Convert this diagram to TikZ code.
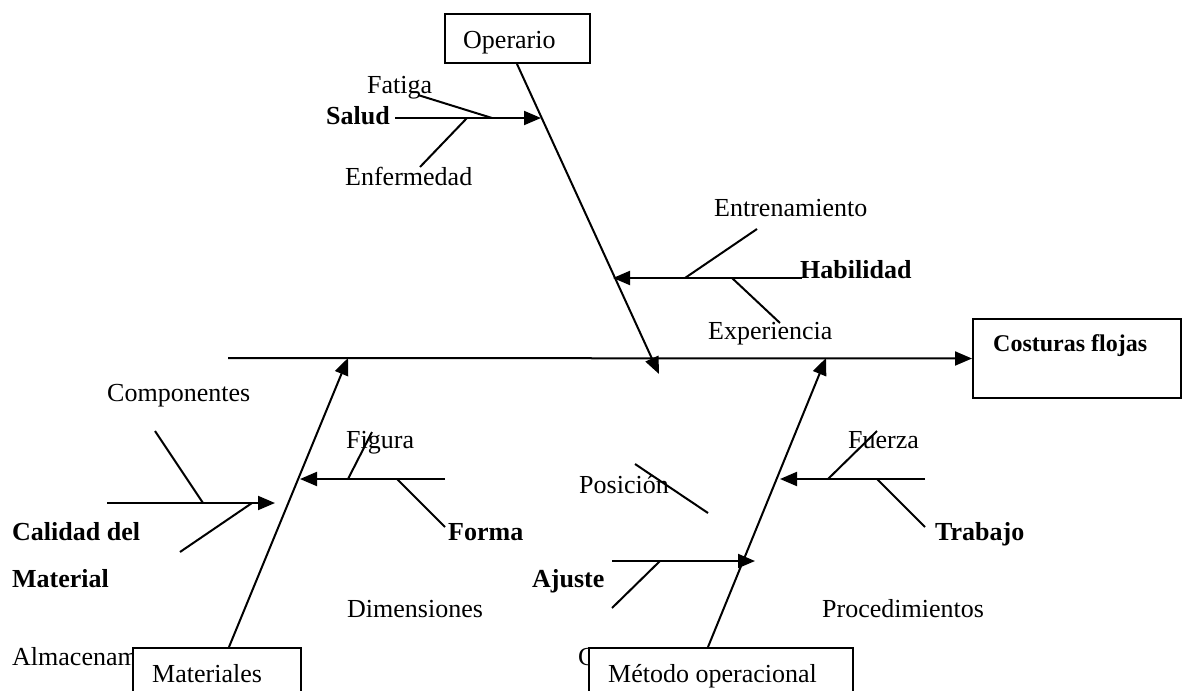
\documentclass[tikz,border=0pt]{standalone}
\usepackage{fontspec}
\setmainfont{Liberation Serif}
\usetikzlibrary{arrows.meta}
\begin{document}
\begin{tikzpicture}[x=1pt,y=-1pt,
  bone/.style={line width=2pt},
  cause/.style={bone,-{Triangle[length=17pt,width=14pt]}},
  box/.style={draw,line width=2pt,fill=white,anchor=north west,inner sep=0pt},
  lbl/.style={anchor=base west,inner sep=0pt,font=\fontsize{26}{30}\selectfont},
  blbl/.style={anchor=base west,inner sep=0pt,font=\fontsize{26}{30}\selectfont\bfseries}]
\useasboundingbox (0,0) rectangle (1184,691);
\clip (0,0) rectangle (1184,691);

% ---- labels ----
\node[lbl]  (fatiga)   at (367,93)  {Fatiga};
\node[blbl] (salud)    at (326,124) {Salud};
\node[lbl]  (enferm)   at (345,185) {Enfermedad};
\node[lbl]  (entren)   at (714,216) {Entrenamiento};
\node[blbl] (habil)    at (800,278) {Habilidad};
\node[lbl]  (exper)    at (708,339) {Experiencia};
\node[lbl]  (compon)   at (107,401) {Componentes};
\node[lbl]  (figura)   at (346,448) {Figura};
\node[lbl]  (fuerza)   at (848,448) {Fuerza};
\node[lbl]  (posicion) at (579,493) {Posición};
\node[blbl] (calidad)  at (12,540)  {Calidad del};
\node[blbl] (material) at (12,587)  {Material};
\node[blbl] (forma)    at (448,540) {Forma};
\node[blbl] (trabajo)  at (935,540) {Trabajo};
\node[blbl] (ajuste)   at (532,587) {Ajuste};
\node[lbl]  (dimens)   at (347,617) {Dimensiones};
\node[lbl]  (proced)   at (822,617) {Procedimientos};
\node[lbl]  (almacen)  at (12,665)  {Almacenam};
\node[lbl]  (cpart)    at (578,665) {C};

% ---- category boxes and effect ----
\node[box,minimum width=145pt,minimum height=49pt] (opbox) at (444,13) {};
\node[lbl] (optext) at (463,48) {Operario};
\node[box,minimum width=168pt,minimum height=60pt] (matbox) at (132,647) {};
\node[lbl] (mattext) at (152,682) {Materiales};
\node[box,minimum width=264pt,minimum height=60pt] (metbox) at (588,647) {};
\node[lbl] (mettext) at (608,682) {Método operacional};
\node[box,minimum width=208pt,minimum height=79pt] (effect) at (972,318) {};
\node[anchor=base west,inner sep=0pt,font=\fontsize{24}{28}\selectfont\bfseries] (efftext) at (993,351) {Costuras flojas};

% ---- spine ----
\coordinate (spine0) at (228,358);
\draw[cause] (spine0) -- (effect.west);

% ---- main bones ----
\coordinate (optip)  at (659,374);
\coordinate (mattip) at (348,358);
\coordinate (mettip) at (826,358);
\draw[cause] ([xshift=73pt]opbox.south west) -- (optip);
\draw[cause] ([xshift=97pt]matbox.north west) -- (mattip);
\draw[cause] ([xshift=120pt]metbox.north west) -- (mettip);

% ---- Operario causes ----
\coordinate (salud0) at (395,118);
\coordinate (saludtip) at (541,118);
\draw[cause] (salud0) -- (saludtip);
\coordinate (fat0) at (418,95);   \coordinate (fat1) at (492,118);
\draw[bone] (fat0) -- (fat1);
\coordinate (enf0) at (420,167);  \coordinate (enf1) at (467,118);
\draw[bone] (enf0) -- (enf1);

\coordinate (habil0) at (802,278);
\coordinate (habiltip) at (613,278);
\draw[cause] (habil0) -- (habiltip);
\coordinate (ent0) at (757,229);  \coordinate (ent1) at (685,278);
\draw[bone] (ent0) -- (ent1);
\coordinate (exp0) at (780,323);  \coordinate (exp1) at (732,278);
\draw[bone] (exp0) -- (exp1);

% ---- Materiales causes ----
\coordinate (cal0) at (107,503);
\coordinate (caltip) at (275,503);
\draw[cause] (cal0) -- (caltip);
\coordinate (com0) at (155,431);  \coordinate (com1) at (203,503);
\draw[bone] (com0) -- (com1);
\coordinate (alm0) at (180,552);  \coordinate (alm1) at (252,503);
\draw[bone] (alm0) -- (alm1);

\coordinate (forma0) at (445,479);
\coordinate (formatip) at (300,479);
\draw[cause] (forma0) -- (formatip);
\coordinate (fig0) at (372,432);  \coordinate (fig1) at (348,479);
\draw[bone] (fig0) -- (fig1);
\coordinate (dim0) at (445,527);  \coordinate (dim1) at (397,479);
\draw[bone] (dim0) -- (dim1);

% ---- Metodo causes ----
\coordinate (trab0) at (925,479);
\coordinate (trabtip) at (780,479);
\draw[cause] (trab0) -- (trabtip);
\coordinate (fue0) at (877,431);  \coordinate (fue1) at (828,479);
\draw[bone] (fue0) -- (fue1);
\coordinate (pro0) at (925,527);  \coordinate (pro1) at (877,479);
\draw[bone] (pro0) -- (pro1);

\coordinate (aj0) at (612,561);
\coordinate (ajtip) at (755,561);
\draw[cause] (aj0) -- (ajtip);
\coordinate (ajb0) at (612,608); \coordinate (ajb1) at (660,561);
\draw[bone] (ajb0) -- (ajb1);
\coordinate (pos0) at (635,464); \coordinate (pos1) at (708,513);
\draw[bone] (pos0) -- (pos1);
\end{tikzpicture}
\end{document}
